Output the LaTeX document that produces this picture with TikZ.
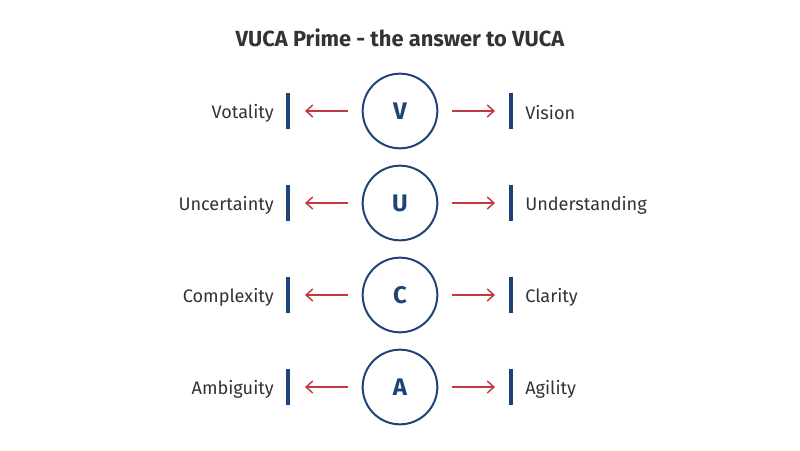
\documentclass[tikz,border=0pt]{standalone}
\usepackage{fontspec}
\setmainfont{Fira Sans}
\usetikzlibrary{arrows.meta}
\definecolor{navy}{HTML}{1E4477}
\definecolor{txt}{HTML}{333333}
\definecolor{arr}{HTML}{C0393F}
\begin{document}
\begin{tikzpicture}[x=0.75pt,y=-0.75pt,
  circ/.style={circle,draw=navy,line width=1.5pt,minimum size=56pt,inner sep=0pt,text=navy,font=\fontsize{18}{20}\selectfont\bfseries},
  lbl/.style={text=txt,font=\fontsize{13.6}{16}\selectfont,inner sep=0pt},
  bar/.style={draw=navy,line width=2.6pt},
  arrw/.style={draw=arr,line width=1.1pt,-{Straight Barb[length=5pt,width=9pt]}}]
\useasboundingbox (0,0) rectangle (800,450);
\node[font=\fontsize{16.4}{18}\selectfont\bfseries,text=txt] (title) at (400,38) {VUCA Prime - the answer to VUCA};
\foreach \i/\L/\C/\R in {1/Votality/V/Vision,2/Uncertainty/U/Understanding,3/Complexity/C/Clarity,4/Ambiguity/A/Agility}{
  \pgfmathsetmacro\yy{111+92*(\i-1)}
  \node[circ] (c\i) at (400,\yy) {\C};
  \coordinate (lt\i) at (288,\yy-18); \coordinate (lb\i) at (288,\yy+18);
  \coordinate (rt\i) at (511,\yy-18); \coordinate (rb\i) at (511,\yy+18);
  \draw[bar] (lt\i) -- (lb\i);
  \draw[bar] (rt\i) -- (rb\i);
  \coordinate (la\i) at (348,\yy); \coordinate (lz\i) at (305,\yy);
  \coordinate (ra\i) at (452,\yy); \coordinate (rz\i) at (495,\yy);
  \draw[arrw] (la\i) -- (lz\i);
  \draw[arrw] (ra\i) -- (rz\i);
  \node[lbl,anchor=east] (l\i) at (274,\yy+2) {\L};
  \node[lbl,anchor=west] (r\i) at (525,\yy+2) {\R};
}
\end{tikzpicture}
\end{document}
